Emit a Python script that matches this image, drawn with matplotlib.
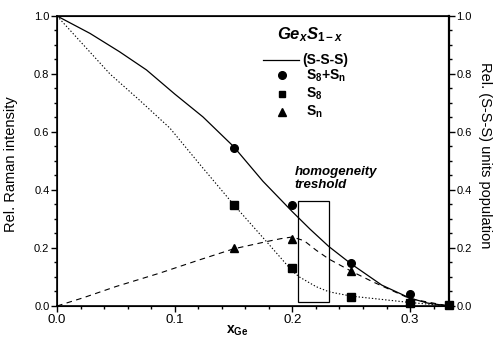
import matplotlib
matplotlib.use("Agg")
import matplotlib.pyplot as plt
from matplotlib.ticker import MultipleLocator
from matplotlib.patches import Rectangle

plt.rcParams['font.family'] = ['Liberation Sans', 'DejaVu Sans']
plt.rcParams['mathtext.fontset'] = 'custom'
plt.rcParams['mathtext.rm'] = 'Liberation Sans:bold'
plt.rcParams['mathtext.bf'] = 'Liberation Sans:bold'
plt.rcParams['mathtext.it'] = 'Liberation Sans:italic:bold'

# measured points
x_pts = [0.15, 0.20, 0.25, 0.30, 0.333]
s8sn = [0.546, 0.348, 0.148, 0.040, 0.003]
s8 = [0.348, 0.130, 0.030, 0.010, 0.003]
sn = [0.199, 0.231, 0.120, 0.022]
x_sn = [0.15, 0.20, 0.25, 0.30]

# (S-S-S) curve (solid)
x_sss = [0, 0.028, 0.053, 0.076, 0.10, 0.124, 0.15, 0.175, 0.20, 0.215, 0.231, 0.25, 0.276, 0.30, 0.315, 0.333]
y_sss = [1.0, 0.94, 0.877, 0.814, 0.731, 0.652, 0.55, 0.43, 0.325, 0.265, 0.205, 0.145, 0.072, 0.027, 0.01, 0.0]

# S8 curve (dotted)
x_s8c = [0, 0.045, 0.07, 0.096, 0.121, 0.15, 0.178, 0.20, 0.206, 0.22, 0.231, 0.25, 0.282, 0.30, 0.333]
y_s8c = [1.0, 0.80, 0.71, 0.613, 0.49, 0.35, 0.222, 0.12, 0.10, 0.067, 0.049, 0.034, 0.02, 0.012, 0.0]

# Sn curve (dashed)
x_snc = [0, 0.022, 0.05, 0.087, 0.121, 0.15, 0.178, 0.19, 0.20, 0.21, 0.22, 0.231, 0.25, 0.268, 0.30, 0.333]
y_snc = [0, 0.028, 0.067, 0.113, 0.159, 0.197, 0.222, 0.232, 0.238, 0.225, 0.193, 0.162, 0.12, 0.084, 0.025, 0.0]

# homogeneity threshold box
box_x = [0.205, 0.231]
box_y = [0.013, 0.362]

fig = plt.figure(figsize=(4.96, 3.38), dpi=100)
ax = fig.add_axes([0.115, 0.0947, 0.79, 0.858])

ax.plot(x_sss, y_sss, color='black', lw=0.9, ls='-')
ax.plot(x_s8c, y_s8c, color='black', lw=0.8, ls=(0, (1.2, 1.8)))
ax.plot(x_snc, y_snc, color='black', lw=0.8, ls=(0, (5, 4)))

ax.plot(x_pts, s8sn, 'o', color='black', ms=5.5, clip_on=False)
ax.plot(x_pts, s8, 's', color='black', ms=5.5, clip_on=False)
ax.plot(x_sn, sn, '^', color='black', ms=6, clip_on=False)

ax.add_patch(Rectangle((box_x[0], box_y[0]), box_x[1] - box_x[0], box_y[1] - box_y[0],
                       fill=False, ec='black', lw=0.9))
ax.text(0.2017, 0.395, 'homogeneity\ntreshold', fontsize=9.5, fontweight='bold',
        fontstyle='italic', ha='left', va='bottom', linespacing=1.15)

ax.set_xlim(0, 0.333)
ax.set_ylim(0, 1.0)
ax.xaxis.set_minor_locator(MultipleLocator(0.02))
ax.yaxis.set_minor_locator(MultipleLocator(0.05))
ax.set_xticks([0, 0.1, 0.2, 0.3])
ax.set_xticklabels(['0.0', '0.1', '0.2', '0.3'])
ax.set_yticks([0, 0.2, 0.4, 0.6, 0.8, 1.0])
ax.set_yticklabels(['0.0', '0.2', '0.4', '0.6', '0.8', '1.0'])
ax.tick_params(axis='x', which='major', direction='out', length=4, width=1, labelsize=9.5, pad=2)
ax.tick_params(axis='x', which='minor', direction='out', length=2.5, width=1)
ax.tick_params(axis='y', which='major', direction='out', length=4, width=1, labelsize=8, pad=1.5)
ax.tick_params(axis='y', which='minor', direction='out', length=2.5, width=1)
for s in ax.spines.values():
    s.set_linewidth(1.2)

ax2 = ax.twinx()
ax2.set_ylim(0, 1.0)
ax2.yaxis.set_minor_locator(MultipleLocator(0.05))
ax2.set_yticks([0, 0.2, 0.4, 0.6, 0.8, 1.0])
ax2.set_yticklabels(['0.0', '0.2', '0.4', '0.6', '0.8', '1.0'])
ax2.tick_params(axis='y', which='major', direction='out', length=4, width=1, labelsize=8, pad=1.5)
ax2.tick_params(axis='y', which='minor', direction='out', length=2.5, width=1)
ax2.spines['right'].set_linewidth(1.6)

ax.set_ylabel('Rel. Raman intensity', fontsize=10.5, va='center')
ax.yaxis.set_label_coords(-0.118, 0.49)
ax2.set_ylabel('Rel. (S-S-S) units population', fontsize=10.5, rotation=-90, va='center')
ax2.yaxis.set_label_coords(1.092, 0.52)
fig.text(0.478, 0.0, r'$\mathbf{x_{Ge}}$', fontsize=10, ha='center', va='bottom')

# legend (manual)
ax.text(0.645, 0.934, r'$\mathit{Ge_xS_{1-x}}$', transform=ax.transAxes, fontsize=12,
        ha='center', va='center')
ax.plot([0.525, 0.618], [0.848, 0.848], transform=ax.transAxes, color='black', lw=0.9)
lx_m = 0.574
ax.text(0.627, 0.848, '(S-S-S)', transform=ax.transAxes, fontsize=10, fontweight='bold',
        ha='left', va='center')
ax.plot([lx_m], [0.795], 'o', transform=ax.transAxes, color='black', ms=5.5)
ax.text(0.635, 0.795, r'$\mathbf{S_8{+}S_n}$', transform=ax.transAxes, fontsize=10,
        ha='left', va='center')
ax.plot([lx_m], [0.730], 's', transform=ax.transAxes, color='black', ms=5)
ax.text(0.635, 0.730, r'$\mathbf{S_8}$', transform=ax.transAxes, fontsize=10,
        ha='left', va='center')
ax.plot([lx_m], [0.668], '^', transform=ax.transAxes, color='black', ms=5.5)
ax.text(0.635, 0.668, r'$\mathbf{S_n}$', transform=ax.transAxes, fontsize=10,
        ha='left', va='center')

fig.savefig('out.png', dpi=100)
